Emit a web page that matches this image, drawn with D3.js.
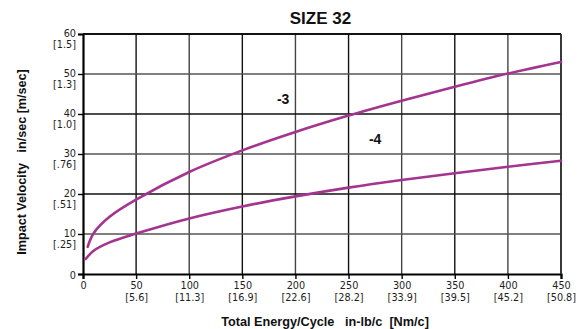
<!DOCTYPE html>
<html><head><meta charset="utf-8">
<script src="https://cdn.jsdelivr.net/npm/d3@7"></script>
<style>
body{margin:0;background:#fff;}
text{font-family:"Liberation Sans Narrow","Arial Narrow",sans-serif;}
text.tk{font-family:"DejaVu Sans",sans-serif;}
</style></head>
<body>
<svg id="c" width="582" height="329"></svg>
<script>
const xTicks = [0,50,100,150,200,250,300,350,400,450];
const xTickSub = ["","[5.6]","[11.3]","[16.9]","[22.6]","[28.2]","[33.9]","[39.5]","[45.2]","[50.8]"];
const yTicks = [0,10,20,30,40,50,60];
const yTickSub = ["","[.25]","[.51]","[.76]","[1.0]","[1.3]","[1.5]"];
const energy3 = [4.4,10,25,50,100,150,200,250,300,350,400,450];
const velocity3 = [6.8,10.2,14.3,18.6,25.5,30.9,35.5,39.6,43.3,46.8,50.1,53];
const energy4 = [2.5,10,25,50,100,150,200,250,300,350,400,450];
const velocity4 = [3.75,5.8,7.9,10.1,13.9,16.9,19.4,21.6,23.5,25.2,26.8,28.3];
const seriesLabels = ["-3","-4"];

const svg = d3.select("#c");
const m = {l:83,r:561,t:34,b:274};
const x = d3.scaleLinear().domain([0,450]).range([m.l,m.r]);
const y = d3.scaleLinear().domain([0,60]).range([m.b,m.t]);

// grid
const g = svg.append("g");
g.selectAll(".vg").data(xTicks.slice(1)).enter().append("line")
  .attr("x1",d=>x(d)).attr("x2",d=>x(d)).attr("y1",m.t).attr("y2",m.b)
  .attr("stroke",(d,i)=>i%2?"#444":"#111").attr("stroke-width",1.4);
g.selectAll(".hg").data(yTicks.slice(1)).enter().append("line")
  .attr("y1",d=>y(d)).attr("y2",d=>y(d)).attr("x1",m.l).attr("x2",m.r)
  .attr("stroke",(d,i)=>i%2?"#111":"#555").attr("stroke-width",1.4);

// axes
const xAxis = svg.append("g").attr("transform",`translate(0,${m.b})`)
  .call(d3.axisBottom(x).tickValues(xTicks).tickSize(5).tickFormat(""));
xAxis.select(".domain").attr("stroke","#000").attr("stroke-width",2.2);
xAxis.selectAll(".tick line").attr("stroke","#000").attr("stroke-width",1.4);
xAxis.selectAll(".tick").each(function(d,i){
  const s = d3.select(this);
  s.append("text").attr("class","tk").attr("fill","#1e1e1e").attr("text-anchor","middle")
    .attr("font-size","9.7px").attr("y",14.7).text(d);
  s.append("text").attr("class","tk").attr("fill","#1e1e1e").attr("text-anchor","middle")
    .attr("font-size","9.7px").attr("y",26.7).text(xTickSub[i]);
});
const yAxis = svg.append("g").attr("transform",`translate(${m.l},0)`)
  .call(d3.axisLeft(y).tickValues(yTicks).tickSize(5).tickFormat(""));
yAxis.select(".domain").attr("stroke","#000").attr("stroke-width",2.2);
yAxis.selectAll(".tick line").attr("stroke","#000").attr("stroke-width",1.4);
yAxis.selectAll(".tick").each(function(d,i){
  const s = d3.select(this);
  s.append("text").attr("class","tk").attr("fill","#1e1e1e").attr("text-anchor","end")
    .attr("font-size","9.7px").attr("x",-7).attr("y",d===0?4.5:2.9).text(d);
  if (yTickSub[i]) s.append("text").attr("class","tk").attr("fill","#1e1e1e").attr("text-anchor","end")
    .attr("font-size","9.7px").attr("x",-7).attr("y",13.7).text(yTickSub[i]);
});
// top & right border
svg.append("line").attr("x1",m.l).attr("x2",m.r).attr("y1",m.t).attr("y2",m.t).attr("stroke","#000").attr("stroke-width",1.6);
svg.append("line").attr("x1",m.r).attr("x2",m.r).attr("y1",m.t).attr("y2",m.b).attr("stroke","#333").attr("stroke-width",1.6);

// curves
const line = d3.line().x(d=>x(d[0])).y(d=>y(d[1])).curve(d3.curveCatmullRom.alpha(0.5));
[[energy3,velocity3],[energy4,velocity4]].forEach(([e,v])=>{
  svg.append("path").datum(e.map((d,i)=>[d,v[i]])).attr("d",line)
    .attr("fill","none").attr("stroke","#a3348f").attr("stroke-width",2.6).attr("stroke-linecap","round");
});

// curve labels
svg.append("text").attr("x",x(182.6)).attr("y",y(42.6)).attr("font-size","14px").attr("font-weight","bold").attr("fill","#111").text(seriesLabels[0]);
svg.append("text").attr("x",x(269.2)).attr("y",y(32.6)).attr("font-size","14px").attr("font-weight","bold").attr("fill","#111").text(seriesLabels[1]);

// titles
svg.append("text").attr("x",320.5).attr("y",24).attr("text-anchor","middle").attr("font-size","17px")
  .attr("font-weight","bold").attr("fill","#111").text("SIZE 32");
svg.append("text").attr("x",325).attr("y",326).attr("text-anchor","middle").attr("font-size","12.7px")
  .attr("font-weight","bold").attr("fill","#111").style("white-space","pre")
  .text("Total Energy/Cycle   in-lb/c  [Nm/c]");
svg.append("text").attr("transform","translate(26,162) rotate(-90)").attr("text-anchor","middle")
  .attr("font-size","12.6px").attr("font-weight","bold").attr("fill","#111").style("white-space","pre")
  .text("Impact Velocity   in/sec [m/sec]");
</script>
</body></html>
